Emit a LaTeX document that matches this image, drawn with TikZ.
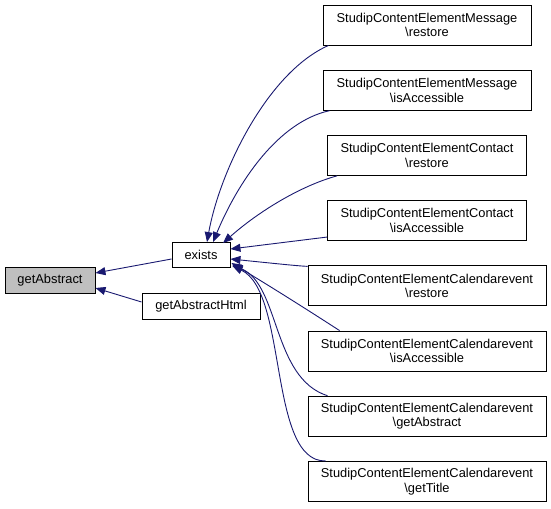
\documentclass[tikz,border=0pt]{standalone}
\usepackage{fontspec}
\setmainfont{Liberation Sans}
\usepackage{tikz}
\usetikzlibrary{arrows.meta,positioning,calc}
\definecolor{edgeblue}{HTML}{191970}
\definecolor{focusgray}{HTML}{BFBFBF}
\tikzset{
  cg/node/.style={draw=black, line width=0.9bp, fill=white, align=center, inner sep=0pt,
    font=\fontsize{12.9}{14.8}\selectfont, minimum height=40bp},
  cg/focus/.style={cg/node, fill=focusgray, minimum height=26bp},
  cg/small/.style={cg/node, minimum height=25bp},
  cg/msg/.style={cg/node, minimum width=208bp},
  cg/contact/.style={cg/node, minimum width=199bp},
  cg/cal/.style={cg/node, minimum width=238bp},
  cg/edge/.style={draw=edgeblue, line width=0.9bp, {Triangle[length=10bp,width=8bp]}-}
}
\begin{document}
\begin{tikzpicture}[x=1bp, y=-1bp, node distance=24.3bp]
  \useasboundingbox (0,0) rectangle (551,509);

  \node[cg/focus, minimum width=90bp] (getAbstract) at (50,280) {getAbstract};
  \node[cg/small, minimum width=58bp] (exists) at (201,255) {exists};
  \node[cg/small, minimum width=118bp, minimum height=26bp] (getAbstractHtml) at (201,306) {getAbstractHtml};

  \node[cg/msg] (msgRestore) at (427,25) {StudipContentElementMessage\\\textbackslash restore};
  \node[cg/msg, below=of msgRestore] (msgAccess) {StudipContentElementMessage\\\textbackslash isAccessible};
  \node[cg/contact, below=of msgAccess] (conRestore) {StudipContentElementContact\\\textbackslash restore};
  \node[cg/contact, below=of conRestore] (conAccess) {StudipContentElementContact\\\textbackslash isAccessible};
  \node[cg/cal, below=of conAccess] (calRestore) {StudipContentElementCalendarevent\\\textbackslash restore};
  \node[cg/cal, below=of calRestore] (calAccess) {StudipContentElementCalendarevent\\\textbackslash isAccessible};
  \node[cg/cal, below=of calAccess] (calAbstract) {StudipContentElementCalendarevent\\\textbackslash getAbstract};
  \node[cg/cal, below=of calAbstract] (calTitle) {StudipContentElementCalendarevent\\\textbackslash getTitle};

  % callers of getAbstract
  \draw[cg/edge] ($(getAbstract.east)+(0,-7)$) -- ($(exists.west)+(0,4)$);
  \draw[cg/edge] ($(getAbstract.east)+(0,8)$) -- ($(getAbstractHtml.west)+(0,-4)$);

  % callers of exists
  \draw[cg/edge] ($(exists.north)+(6,0)$) .. controls (220,170) and (268,72) .. ($(msgRestore.south west)+(6,0)$);
  \draw[cg/edge] ($(exists.north)+(12,0)$) .. controls (238,182) and (278,122) .. ($(msgAccess.south west)+(7,0)$);
  \draw[cg/edge] ($(exists.north)+(22,1)$) .. controls (258,212) and (300,186) .. ($(conRestore.south west)+(10,0)$);
  \draw[cg/edge] ($(exists.east)+(0,-6)$) -- ($(conAccess.south west)+(0,-4)$);
  \draw[cg/edge] ($(exists.east)+(0,4)$) .. controls (270,263) and (298,266) .. ($(calRestore.north west)+(0,1)$);
  \draw[cg/edge] ($(exists.east)+(1,8)$) .. controls (268,285) and (300,305) .. ($(calAccess.north west)+(32,0)$);
  \draw[cg/edge] ($(exists.east)+(2,10)$) .. controls (280,285) and (272,378) .. ($(calAbstract.north west)+(20,0)$);
  \draw[cg/edge] ($(exists.east)+(2,11)$) .. controls (288,292) and (268,462) .. ($(calTitle.north west)+(18,0)$);
\end{tikzpicture}
\end{document}
